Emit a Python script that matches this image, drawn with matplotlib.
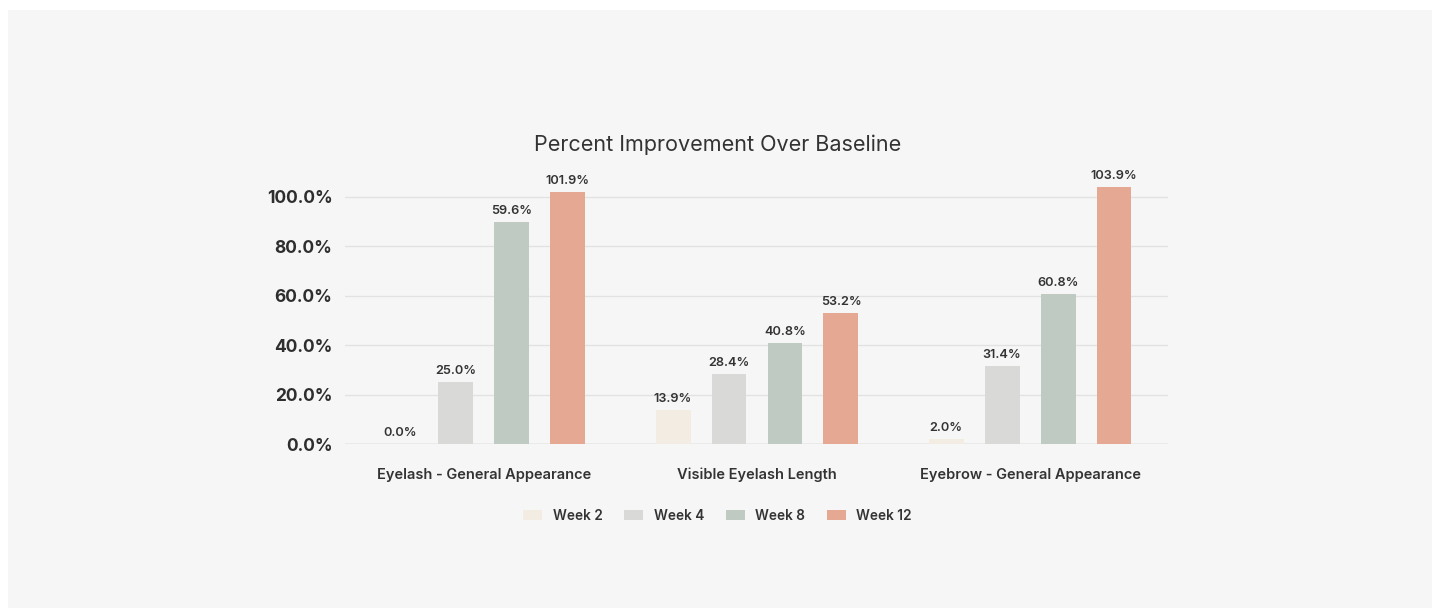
import numpy as np
import matplotlib
matplotlib.use("Agg")
import matplotlib.pyplot as plt
from matplotlib.patches import Rectangle

plt.rcParams['font.family'] = ['Inter', 'DejaVu Sans']

categories = ["Eyelash - General Appearance", "Visible Eyelash Length", "Eyebrow - General Appearance"]
series = ["Week 2", "Week 4", "Week 8", "Week 12"]
# bar heights as drawn in the picture
heights = [
    [0.0, 13.9, 2.0],
    [25.0, 28.4, 31.4],
    [90.0, 40.8, 60.8],
    [101.9, 53.2, 103.9],
]
# value labels printed above the bars
labels = [
    ["0.0%", "13.9%", "2.0%"],
    ["25.0%", "28.4%", "31.4%"],
    ["59.6%", "40.8%", "60.8%"],
    ["101.9%", "53.2%", "103.9%"],
]
colors = ["#F2ECE3", "#D9D9D7", "#BFCBC2", "#E4A893"]
yticks = [0, 20, 40, 60, 80, 100]

fig = plt.figure(figsize=(14.35, 6.1), dpi=100)
fig.patch.set_facecolor("white")
panel = Rectangle((8/1435, 1 - 608/610), 1424/1435, 598/610,
                  transform=fig.transFigure, facecolor="#F6F6F6",
                  edgecolor="none", zorder=-10)
fig.patches.append(panel)

ax = fig.add_axes([0.2404, 0.2721, 0.5735, 0.4295])
ax.set_facecolor("none")

x = np.arange(len(categories))
step = 0.205
width = 0.128
for i, name in enumerate(series):
    pos = x + (i - 1.5) * step
    bars = ax.bar(pos, heights[i], width, color=colors[i], label=name, zorder=3)
    for b, lab in zip(bars, labels[i]):
        ax.text(b.get_x() + b.get_width() / 2, b.get_height() + 2.0, lab,
                ha="center", va="bottom", fontsize=9.2, fontweight="semibold",
                color="#333333", zorder=4)

ax.set_xlim(-0.509, 2.505)
ax.set_ylim(0, 106)
ax.set_yticks(yticks)
ax.set_yticklabels([f"{v:.1f}%" for v in yticks], fontsize=12.5,
                   fontweight="bold", color="#2E2E2E")
ax.set_xticks(x)
ax.set_xticklabels(categories, fontsize=10.5, fontweight="semibold", color="#333333")
ax.tick_params(axis="both", length=0)
ax.tick_params(axis="x", pad=17)
ax.tick_params(axis="y", pad=9)
ax.grid(axis="y", color="#E2E2E2", linewidth=1, zorder=0)
for s in ax.spines.values():
    s.set_visible(False)
ax.axhline(0, color="#CCCCCC", linewidth=1, zorder=2)

fig.text(0.5, 1 - 145/610, "Percent Improvement Over Baseline", ha="center",
         va="center", fontsize=15.5, color="#333333")

leg = fig.legend(loc="center", bbox_to_anchor=(0.5, 1 - 516/610), ncol=4,
                 frameon=False, fontsize=9.8, handlelength=1.4, handleheight=0.7,
                 columnspacing=1.6, handletextpad=0.75)
for t in leg.get_texts():
    t.set_color("#333333")
    t.set_fontweight("semibold")

fig.savefig("out.png", dpi=100, facecolor=fig.get_facecolor())
